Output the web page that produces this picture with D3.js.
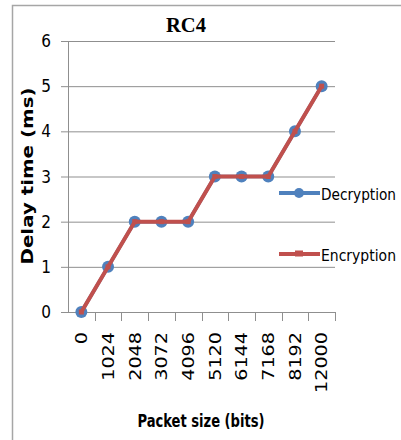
<!DOCTYPE html>
<html><head><meta charset="utf-8">
<script src="https://cdn.jsdelivr.net/npm/d3@7"></script>
<style>html,body{margin:0;padding:0;background:#fff;}svg{display:block;}</style>
</head><body>
<svg id="c" width="401" height="440"></svg>
<script>
const categories = ["0","1024","2048","3072","4096","5120","6144","7168","8192","12000"];
const decryption = [0,1,2,2,2,3,3,3,4,5];
const encryption = [0,1,2,2,2,3,3,3,4,5];
const yTicks = [0,1,2,3,4,5,6];
const title = "RC4";
const xTitle = "Packet size (bits)";
const yTitle = "Delay time (ms)";
const seriesNames = ["Decryption","Encryption"];

const svg = d3.select("#c");
const blue = "#4F81BD", red = "#C0504D", grid = "#8f8f8f";

// outer border
svg.append("rect").attr("x",12.5).attr("y",5.5).attr("width",420).attr("height",460)
  .attr("fill","none").attr("stroke","#a6a6a6").attr("stroke-width",1.5);

const x = d3.scaleBand().domain(categories).range([68,335]).padding(0);
const y = d3.scaleLinear().domain([0,6]).range([312,41]);
const cx = d => x(d) + x.bandwidth()/2;

// gridlines + y ticks
svg.append("g").attr("transform","translate(68,0)")
  .call(d3.axisLeft(y).tickValues(yTicks).tickSize(7).tickFormat(""))
  .call(g=>{g.select(".domain").attr("stroke",grid);g.selectAll("line").attr("stroke",grid);});
svg.append("g").selectAll("line").data(yTicks).join("line")
  .attr("x1",68).attr("x2",335).attr("y1",d=>y(d)+0.5).attr("y2",d=>y(d)+0.5)
  .attr("stroke",grid).attr("stroke-width",1);
svg.append("g").selectAll("text").data(yTicks).join("text")
  .attr("x",51).attr("y",d=>y(d)).attr("dy","0.36em").attr("text-anchor","end")
  .attr("font-family","'DejaVu Sans Condensed','DejaVu Sans',sans-serif").attr("font-size",17)
  .attr("fill","#000").text(d=>d);

// x axis ticks at band boundaries
const bounds = categories.map(c=>x(c)).concat([x(categories[categories.length-1])+x.bandwidth()]);
svg.append("g").selectAll("line").data(bounds.slice(1)).join("line")
  .attr("x1",d=>Math.round(d)+0.5).attr("x2",d=>Math.round(d)+0.5).attr("y1",312).attr("y2",321)
  .attr("stroke",grid);
svg.append("line").attr("x1",61).attr("x2",335).attr("y1",312.5).attr("y2",312.5).attr("stroke",grid);

// x tick labels
svg.append("g").selectAll("text").data(categories).join("text")
  .attr("transform",d=>`translate(${cx(d)},332) rotate(-90)`)
  .attr("text-anchor","end").attr("dy","0.36em")
  .attr("font-family","'DejaVu Sans',sans-serif").attr("font-size",16)
  .attr("textLength",d=>d.length*12.2).attr("lengthAdjust","spacingAndGlyphs")
  .attr("fill","#000").text(d=>d);

// lines
const line = d3.line().x((d,i)=>cx(categories[i])).y(d=>y(d));
svg.append("path").datum(decryption).attr("d",line).attr("fill","none").attr("stroke",blue).attr("stroke-width",3.5);
svg.append("g").selectAll("circle").data(decryption).join("circle")
  .attr("cx",(d,i)=>cx(categories[i])).attr("cy",d=>y(d)).attr("r",6).attr("fill",blue);
svg.append("path").datum(encryption).attr("d",line).attr("fill","none").attr("stroke",red).attr("stroke-width",4).attr("stroke-linejoin","round");
svg.append("g").selectAll("rect").data(encryption).join("rect")
  .attr("x",(d,i)=>cx(categories[i])-2.5).attr("y",d=>y(d)-2.5).attr("width",5).attr("height",5).attr("fill",red);

// legend
const leg = [{n:seriesNames[0],c:blue,y:193,m:"circle"},{n:seriesNames[1],c:red,y:254,m:"rect"}];
leg.forEach(l=>{
  svg.append("line").attr("x1",279).attr("x2",320).attr("y1",l.y).attr("y2",l.y).attr("stroke",l.c).attr("stroke-width",4);
  if(l.m==="circle") svg.append("circle").attr("cx",299).attr("cy",l.y).attr("r",5).attr("fill",l.c);
  else svg.append("rect").attr("x",295).attr("y",l.y-3.5).attr("width",8).attr("height",6).attr("fill",l.c);
  svg.append("text").attr("x",321).attr("y",l.y+6.5).attr("font-family","'DejaVu Sans Condensed','DejaVu Sans',sans-serif")
    .attr("font-size",15.5).attr("textLength",75).attr("lengthAdjust","spacingAndGlyphs").attr("fill","#000").text(l.n);
});

// titles
svg.append("text").attr("x",186).attr("y",32).attr("text-anchor","middle")
  .attr("font-family","'Liberation Serif','Times New Roman',serif").attr("font-weight","bold").attr("font-size",22)
  .attr("textLength",40).attr("lengthAdjust","spacingAndGlyphs").text(title);
svg.append("text").attr("x",201).attr("y",427).attr("text-anchor","middle")
  .attr("font-family","'DejaVu Sans Condensed','DejaVu Sans',sans-serif").attr("font-weight","bold").attr("font-size",18)
  .attr("textLength",127).attr("lengthAdjust","spacingAndGlyphs").text(xTitle);
svg.append("text").attr("transform","translate(33,176) rotate(-90)").attr("text-anchor","middle")
  .attr("font-family","'DejaVu Sans',sans-serif").attr("font-weight","bold").attr("font-size",15)
  .attr("textLength",177).attr("lengthAdjust","spacingAndGlyphs").text(yTitle);
</script>
</body></html>
